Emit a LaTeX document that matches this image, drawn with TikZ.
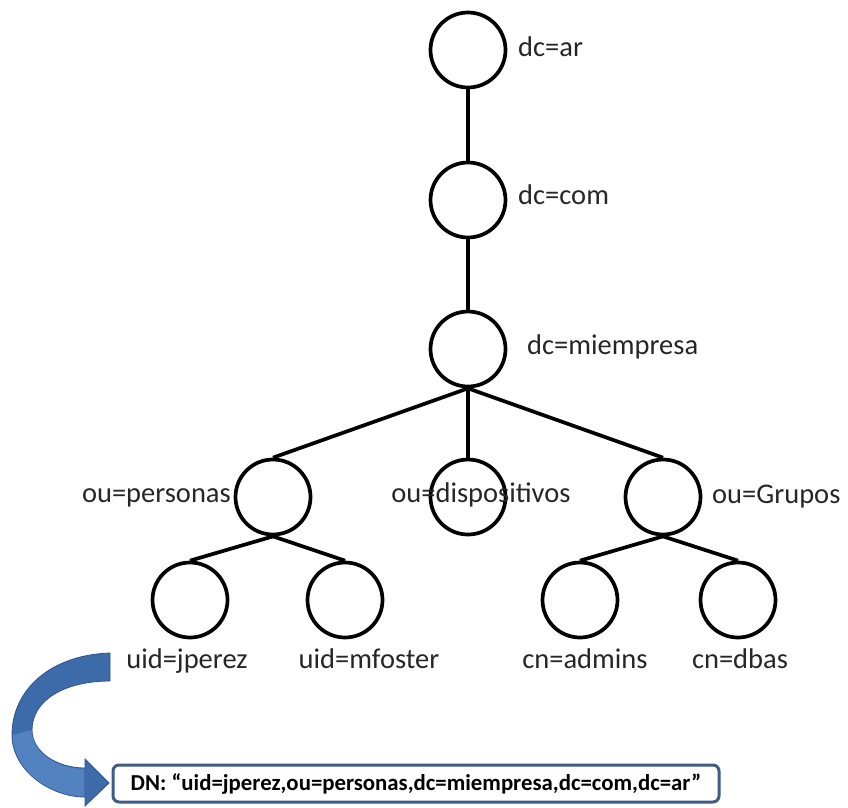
\documentclass[tikz,border=0pt]{standalone}
\usepackage{fontspec}
\setmainfont{Carlito}
\begin{document}
\begin{tikzpicture}[x=1pt,y=-1pt,
  vert/.style={circle, draw=black, line width=3.7pt, minimum size=75pt, inner sep=0pt},
  edge/.style={draw=black, line width=3.7pt},
  lbl/.style={inner sep=0pt, text=black!85, font=\fontsize{28.5}{34}\selectfont},
  dnbox/.style={draw=dnblue, line width=3pt, rounded corners=6pt, fill=white,
    minimum width=606pt, minimum height=37pt, inner sep=0pt,
    font=\fontsize{22.8}{27}\selectfont\bfseries}]
\definecolor{dnblue}{HTML}{3E5C86}
\definecolor{arrowdark}{HTML}{3D6AA8}
\definecolor{arrowlight}{HTML}{5282C0}
\definecolor{arrowedge}{HTML}{2F5591}
\useasboundingbox (0,0) rectangle (848,807);

% tree vertices
\node[vert] (ar)   at (468,50)  {};
\node[vert] (com)  at (468,200) {};
\node[vert] (mi)   at (468,349) {};
\node[vert] (pers) at (273,497) {};
\node[vert] (disp) at (468,497) {};
\node[vert] (grp)  at (663,497) {};
\node[vert] (jp)   at (190,600) {};
\node[vert] (mf)   at (345,600) {};
\node[vert] (adm)  at (580,600) {};
\node[vert] (dba)  at (738,600) {};

% connectors
\draw[edge] (ar.south) -- (com.north);
\draw[edge] (com.south) -- (mi.north);
\draw[edge] (mi.south) -- (pers.north);
\draw[edge] (mi.south) -- (disp.north);
\draw[edge] (mi.south) -- (grp.north);
\draw[edge] (pers.south) -- (jp.north);
\draw[edge] (pers.south) -- (mf.north);
\draw[edge] (grp.south) -- (adm.north);
\draw[edge] (grp.south) -- (dba.north);

% labels
\node[lbl, anchor=base west] (lar)  at (518,56)  {dc=ar};
\node[lbl, anchor=base west] (lcom) at (518,204) {dc=com};
\node[lbl, anchor=base west] (lmi)  at (527,354) {dc=miempresa};
\node[lbl, anchor=base east] (lpers) at (231,502) {ou=personas};
\node[lbl, anchor=base] (ldisp) at (481,502) {ou=dispositivos};
\node[lbl, anchor=base west] (lgrp) at (712,503) {ou=Grupos};
\node[lbl, anchor=base] (ljp)  at (187,668) {uid=jperez};
\node[lbl, anchor=base] (lmf)  at (369,668) {uid=mfoster};
\node[lbl, anchor=base] (ladm) at (585,668) {cn=admins};
\node[lbl, anchor=base] (ldba) at (740,668) {cn=dbas};

% distinguished name box
\node[dnbox] (dn) at (416,783.5) {DN: “uid=jperez,ou=personas,dc=miempresa,dc=com,dc=ar”};

% curved arrow pointing at the DN box
\fill[arrowdark, draw=arrowedge, line width=0.8pt]
  (110,653) .. controls (50,655) and (12,690) .. (12,735)
  .. controls (12,770) and (50,797) .. (85,797)
  -- (85,806) -- (109,783) -- (85,759) -- (85,768)
  .. controls (57,768) and (32,752) .. (32,730)
  .. controls (32,700) and (65,681) .. (110,681) -- cycle;
\fill[arrowlight]
  (12.8,735) .. controls (12.8,770) and (50,796.2) .. (84.2,796.2)
  -- (84.2,768.8) .. controls (57,768.8) and (31.5,752) .. (31.5,730) -- cycle;
\end{tikzpicture}
\end{document}
